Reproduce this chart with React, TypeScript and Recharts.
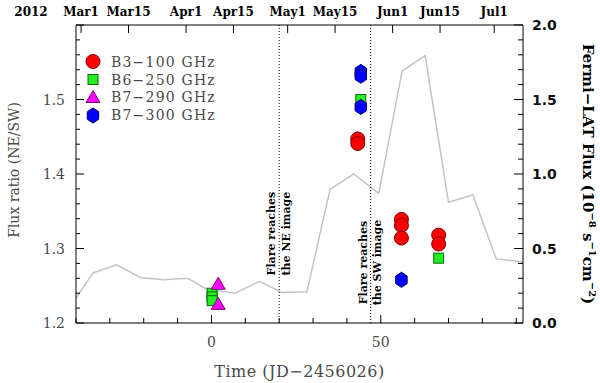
import React from 'react';
import { ComposedChart, Line, Scatter, XAxis, YAxis, ReferenceLine } from 'recharts';

// Fermi-LAT weekly flux (right axis, 1e-8 s^-1 cm^-2)
const latTime = [-40, -35, -28, -21, -14, -7, -1.3, 7, 14.2, 20.8, 28.2, 35, 42, 49.4, 56.3, 63.1, 70, 77.2, 84.1, 92];
const latFlux = [0.165, 0.336, 0.39, 0.306, 0.29, 0.3, 0.227, 0.2, 0.28, 0.205, 0.21, 0.896, 1.0, 0.87, 1.69, 1.795, 0.81, 0.86, 0.43, 0.41];

// flux ratio NE/SW per band
const b3Time = [43.2, 43.2, 56.1, 56.1, 56.1, 67.1, 67.1];
const b3Ratio = [1.447, 1.441, 1.339, 1.331, 1.314, 1.318, 1.306];
const b6Time = [0.2, 0.2, 0.2, 44.1, 67.1];
const b6Ratio = [1.24, 1.235, 1.23, 1.5, 1.287];
const b7lowTime = [2, 2];
const b7lowRatio = [1.252, 1.225];
const b7highTime = [44.1, 44.1, 44.1, 56.1];
const b7highRatio = [1.537, 1.532, 1.49, 1.258];

// axes
const bottomTicks = [-40, -30, -20, -10, 0, 10, 20, 30, 40, 50, 60, 70, 80, 90];
const dateTicks = [-38.5, -24.5, -7.5, 6.5, 22.5, 36.5, 53.5, 67.5, 83.5];
const dateLabels = ['Mar1', 'Mar15', 'Apr1', 'Apr15', 'May1', 'May15', 'Jun1', 'Jun15', 'Jul1'];
const ratioTicks = [1.2, 1.22, 1.24, 1.26, 1.28, 1.3, 1.32, 1.34, 1.36, 1.38, 1.4, 1.42, 1.44, 1.46, 1.48, 1.5, 1.52, 1.54, 1.56, 1.58, 1.6];
const fluxTicks = [0, 0.1, 0.2, 0.3, 0.4, 0.5, 0.6, 0.7, 0.8, 0.9, 1.0, 1.1, 1.2, 1.3, 1.4, 1.5, 1.6, 1.7, 1.8, 1.9, 2.0];
const flareLines = [20, 47];

const SERIF = '"DejaVu Serif", serif';
const GREY = '#4a4a4a';

const lat = latTime.map((t, i) => ({ t, flux: latFlux[i] }));
const toPts = (ts: number[], rs: number[]) => ts.map((t, i) => ({ t, r: rs[i] }));

// marker shapes
const circle = (cx: number, cy: number) => (
  <circle cx={cx} cy={cy} r={7} fill="#ff0000" stroke="#7a0000" strokeWidth={1} />
);
const square = (cx: number, cy: number) => (
  <rect x={cx - 5} y={cy - 5} width={10} height={10} fill="#22ee22" stroke="#0a6a0a" strokeWidth={1} />
);
const triangle = (cx: number, cy: number) => (
  <polygon points={`${cx},${cy - 7} ${cx + 7},${cy + 5} ${cx - 7},${cy + 5}`} fill="#ff00ff" stroke="#800080" strokeWidth={1} />
);
const hexagon = (cx: number, cy: number) => {
  const pts = [0, 1, 2, 3, 4, 5]
    .map((k) => {
      const a = (Math.PI / 3) * k - Math.PI / 2;
      return `${cx + 6.6 * Math.cos(a)},${cy + 7.6 * Math.sin(a)}`;
    })
    .join(' ');
  return <polygon points={pts} fill="#0000ff" stroke="#000070" strokeWidth={1} />;
};

const series = [
  { name: 'B3\u2212100 GHz', data: toPts(b3Time, b3Ratio), shape: circle },
  { name: 'B6\u2212250 GHz', data: toPts(b6Time, b6Ratio), shape: square },
  { name: 'B7\u2212290 GHz', data: toPts(b7lowTime, b7lowRatio), shape: triangle },
  { name: 'B7\u2212300 GHz', data: toPts(b7highTime, b7highRatio), shape: hexagon },
];

const BottomTick = (p: any) => {
  const v = p.payload.value;
  const major = v % 50 === 0;
  return (
    <g>
      <line x1={p.x} x2={p.x} y1={p.y} y2={p.y - (major ? 8 : 5)} stroke="#000" />
      {major && (
        <text x={p.x} y={p.y + 24} textAnchor="middle" fontFamily={SERIF} fontSize={14} fill={GREY}>
          {v}
        </text>
      )}
    </g>
  );
};

const TopTick = (p: any) => (
  <g>
    <line x1={p.x} x2={p.x} y1={p.y} y2={p.y + 8} stroke="#000" />
    <text x={p.x} y={p.y - 9} textAnchor="middle" fontFamily={SERIF} fontWeight="bold" fontSize={12} fill="#000">
      {dateLabels[p.index]}
    </text>
  </g>
);

const LeftTick = (p: any) => {
  const v = p.payload.value;
  const major = Math.round(v * 100) % 10 === 0;
  return (
    <g>
      <line x1={p.x} x2={p.x + (major ? 8 : 4)} y1={p.y} y2={p.y} stroke="#000" />
      {major && v < 1.59 && (
        <text x={p.x - 11} y={p.y + 5} textAnchor="end" fontFamily={SERIF} fontSize={14} fill={GREY}>
          {v.toFixed(1)}
        </text>
      )}
    </g>
  );
};

const RightTick = (p: any) => {
  const v = p.payload.value;
  const major = Math.round(v * 10) % 5 === 0;
  return (
    <g>
      <line x1={p.x} x2={p.x - (major ? 9 : 5)} y1={p.y} y2={p.y} stroke="#000" />
      {major && (
        <text x={p.x + 9} y={p.y + 5} textAnchor="start" fontFamily='"DejaVu Sans", sans-serif' fontWeight="bold" fontSize={14} fill="#111">
          {v.toFixed(1)}
        </text>
      )}
    </g>
  );
};

const flareLabel = (which: string, frac: number) => (props: any) => {
  const { x, y, height } = props.viewBox;
  const cy = y + height * frac;
  return (
    <text transform={`rotate(-90 ${x} ${cy})`} x={x} y={cy} textAnchor="middle" fontFamily={SERIF} fontWeight="bold" fontSize={11} fill="#000">
      <tspan x={x} dy={-4}>Flare reaches</tspan>
      <tspan x={x} dy={14.5}>{`the ${which} image`}</tspan>
    </text>
  );
};

const RightTitle = (props: any) => {
  const { x, y, height } = props.viewBox;
  const bx = x + 60;
  const cy = y + height / 2;
  return (
    <text transform={`rotate(90 ${bx} ${cy})`} x={bx} y={cy} textAnchor="middle" fontFamily={SERIF} fontWeight="bold" fontSize={15} fill="#000">
      Fermi{'\u2212'}LAT Flux (10
      <tspan dy={-6} fontSize={10}>{'\u22128'}</tspan>
      <tspan dy={6}> s</tspan>
      <tspan dy={-6} fontSize={10}>{'\u22121'}</tspan>
      <tspan dy={6}>cm</tspan>
      <tspan dy={-6} fontSize={10}>{'\u22122'}</tspan>
      <tspan dy={6}>)</tspan>
    </text>
  );
};

const LeftTitle = (props: any) => {
  const { y, height } = props.viewBox;
  const bx = 19;
  const cy = y + height / 2 - 4;
  return (
    <text transform={`rotate(-90 ${bx} ${cy})`} x={bx} y={cy} textAnchor="middle" fontFamily={SERIF} fontSize={14} fill={GREY}>
      Flux ratio (NE/SW)
    </text>
  );
};

const BottomTitle = (props: any) => {
  const { x, y, width } = props.viewBox;
  return (
    <text x={x + width / 2} y={y + 54} textAnchor="middle" fontFamily={SERIF} fontSize={16} letterSpacing={0.5} fill={GREY}>
      Time (JD{'\u2212'}2456026)
    </text>
  );
};

const YearLabel = (props: any) => {
  const { x, y, height } = props.viewBox;
  return (
    <text x={x - 45} y={y + height - 9} textAnchor="middle" fontFamily={SERIF} fontWeight="bold" fontSize={12} fill="#000">
      2012
    </text>
  );
};

export default function App() {
  return (
    <div style={{ position: 'absolute', left: 0, top: 0, width: 600, height: 383, background: '#fff' }}>
      <ComposedChart width={600} height={383} margin={{ top: 0, right: 0, bottom: 0, left: 0 }}>
        <XAxis
          xAxisId="bottom"
          dataKey="t"
          type="number"
          domain={[-40, 92]}
          allowDataOverflow
          ticks={bottomTicks}
          interval={0}
          height={60}
          tickSize={0}
          tickMargin={0}
          tickLine={false}
          axisLine={{ stroke: '#000' }}
          tick={BottomTick}
          label={BottomTitle}
        />
        <XAxis
          xAxisId="top"
          orientation="top"
          dataKey="t"
          type="number"
          domain={[-40, 92]}
          allowDataOverflow
          ticks={dateTicks}
          interval={0}
          height={25}
          tickSize={0}
          tickMargin={0}
          tickLine={false}
          axisLine={{ stroke: '#000' }}
          tick={TopTick}
          label={YearLabel}
        />
        <YAxis
          yAxisId="left"
          dataKey="r"
          type="number"
          domain={[1.2, 1.6]}
          allowDataOverflow
          ticks={ratioTicks}
          interval={0}
          width={76}
          tickSize={0}
          tickMargin={0}
          tickLine={false}
          axisLine={{ stroke: '#000' }}
          tick={LeftTick}
          label={LeftTitle}
        />
        <YAxis
          yAxisId="right"
          orientation="right"
          dataKey="flux"
          type="number"
          domain={[0, 2]}
          allowDataOverflow
          ticks={fluxTicks}
          interval={0}
          width={77}
          tickSize={0}
          tickMargin={0}
          tickLine={false}
          axisLine={{ stroke: '#000' }}
          tick={RightTick}
          label={RightTitle}
        />

        <Line
          data={lat}
          dataKey="flux"
          xAxisId="bottom"
          yAxisId="right"
          type="linear"
          stroke="#c4c4c4"
          strokeWidth={1.5}
          dot={false}
          activeDot={false}
          isAnimationActive={false}
        />

        {flareLines.map((fx, i) => (
          <ReferenceLine
            key={fx}
            x={fx}
            xAxisId="bottom"
            yAxisId="left"
            stroke="#000"
            strokeDasharray="1 2"
            label={flareLabel(i === 0 ? 'NE' : 'SW', i === 0 ? 0.7 : 0.797)}
          />
        ))}

        {series.map((s) => (
          <Scatter
            key={s.name}
            name={s.name}
            data={s.data}
            dataKey="r"
            xAxisId="bottom"
            yAxisId="left"
            isAnimationActive={false}
            shape={(p: any) => s.shape(p.cx, p.cy)}
          />
        ))}
      </ComposedChart>

      {/* Legend */}
      <div style={{ position: 'absolute', left: 85, top: 53, fontFamily: SERIF, fontSize: 14, color: GREY, letterSpacing: 1.2 }}>
        {series.map((s) => (
          <div key={s.name} style={{ display: 'flex', alignItems: 'center', height: 17.8 }}>
            <svg width={16} height={17} style={{ marginRight: 10 }}>
              {s.shape(8, 8.5)}
            </svg>
            <span style={{ whiteSpace: 'pre' }}>{s.name}</span>
          </div>
        ))}
      </div>
    </div>
  );
}
